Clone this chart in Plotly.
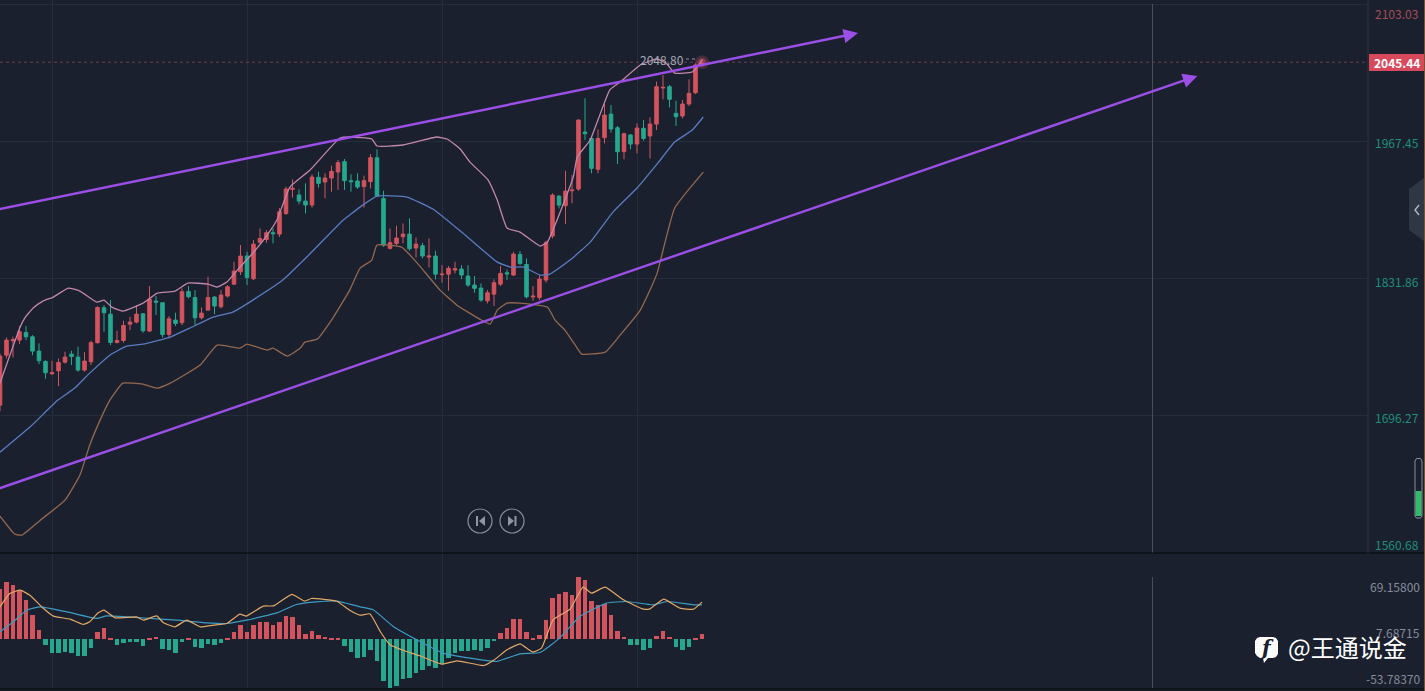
import plotly.graph_objects as go

W, H = 1425, 691

# ---------- data ----------
candle_index = list(range(-1, 108))
open_ = [1706,1755.5,1769.7,1770.4,1778,1773.7,1759.5,1749.3,1737.1,1740,1748.6,1756.5,1753.6,1740.7,1749,1767.8,1802.4,1796.1,1768.1,1770,1786.2,1788.2,1796.5,1779.3,1809,1807.4,1776,1790.2,1787.6,1818.6,1812.6,1792.5,1800.1,1813,1803.4,1814,1825.8,1838,1853.6,1831.1,1867.1,1870,1876.7,1875.3,1895.8,1919.6,1914,1908,1904.1,1931.5,1926.9,1930.8,1936.8,1947,1928.2,1927.9,1922.3,1927.2,1950.9,1910.6,1861.2,1866.1,1872.7,1875.3,1861.5,1863.8,1852.6,1853.6,1835.1,1835.7,1839.7,1840.7,1833.8,1824.9,1821.9,1809.3,1815.9,1825.8,1837,1834.8,1855.2,1845.3,1813,1812.6,1829.8,1873.4,1912.9,1903.4,1918.2,1919.9,1976.3,1970,1939.4,1970.7,1994.1,1980.6,1956.9,1973.4,1964.4,1980,1972.4,1984.2,2019.9,2021.2,1994.8,1992.2,2004,2015.3,2043.6]
high = [1757,1773,1773.7,1784.3,1784.3,1775.3,1767.1,1750.6,1749.9,1752.2,1758.9,1759.8,1763.8,1758.5,1769.7,1804,1805,1810,1779.6,1789.5,1793.5,1805,1796.8,1823.9,1814,1807.4,1794.2,1797.5,1821.5,1823.9,1819.9,1802.7,1833.1,1814,1819.9,1824.9,1848,1864.5,1857.9,1869.4,1881,1879.3,1881,1901,1922.3,1929.5,1919.6,1925.5,1934.5,1937.1,1935.4,1943,1948.7,1949.6,1934.5,1935.4,1933.1,1954.5,1959.2,1918.2,1880.9,1883.6,1885.9,1890.9,1872,1866.8,1871,1858.8,1844.6,1843.7,1848,1844.6,1844.6,1833.8,1826.5,1819.9,1830.5,1843.7,1840.4,1857.8,1858.5,1851.3,1823.9,1834.8,1868.7,1915.6,1913.9,1938,1933.8,1988.9,2009.7,1971.7,1979,2004,2003,1982.3,1975.7,1974.3,1984.9,1988.2,1990.8,2026.2,2032.7,2022.9,2007.3,2008,2028.5,2044.3,2048.8]
low = [1700,1752.2,1753.2,1766.4,1770.4,1755.5,1746.6,1732.1,1735.8,1724.9,1747.3,1745.7,1739.1,1739.1,1745.7,1767.1,1778.7,1765.5,1767.1,1767.8,1780.3,1786.9,1777.7,1778.7,1795.2,1773,1772,1784.3,1785.3,1811.7,1785.3,1790.9,1799.4,1796.1,1801.8,1812.6,1824.9,1834.8,1824.9,1829.8,1866.1,1866.8,1866.1,1872.5,1894.2,1911.4,1904.8,1895.8,1901.5,1921.3,1910.7,1917.3,1919,1919,1917.3,1920,1901.5,1920.5,1912.3,1862.8,1860.2,1864.4,1866.1,1858.8,1852.2,1851.3,1842.3,1830.5,1827.2,1819.2,1836.4,1830.8,1823.2,1817.3,1808.4,1806.7,1804.1,1823.9,1829.8,1833.8,1844.6,1811.7,1809.3,1810,1827.2,1871.1,1900.7,1885.2,1905.7,1918.2,1968.4,1935.4,1935.4,1965.1,1975.7,1944.6,1949.3,1959.2,1955.2,1967.7,1950.2,1978.3,2008.7,2000.7,1982.3,1989.9,2002.1,2013.9,2041]
close = [1754.6,1770.4,1771,1778.7,1773.7,1759.5,1750,1738.1,1738.1,1748.3,1753.6,1754.2,1740.7,1749.6,1767.8,1802.7,1797.5,1768.1,1770,1784.9,1788.2,1796.1,1779.6,1811,1808,1776,1791.5,1786.9,1818.3,1813.3,1792.5,1797.1,1812.6,1804.1,1815,1823.2,1838.7,1853.6,1832.4,1865.4,1871,1876.7,1875.7,1897.4,1919.9,1920.6,1908,1904.1,1931.8,1925.5,1930.8,1937.4,1946,1928.2,1927.2,1921.9,1928.2,1950.9,1913.3,1864.4,1866.8,1871.4,1875.3,1860.8,1865.4,1853.6,1853.6,1835.7,1835.7,1841.4,1841,1834.8,1824.9,1821.6,1810,1817.3,1827.2,1836.4,1836,1855.5,1846.3,1813.3,1813.9,1830.8,1867.1,1913.9,1904,1917.9,1918.9,1988.2,1974.7,1940.4,1970,1993.1,1979.3,1956.9,1974.7,1964.4,1980.3,1970,1984.2,2021.2,2020.5,2008.7,1991.5,2004,2014.6,2042.7,2045.44]

upper_x = [-1,2.1,2.8,4.1,5.6,7.2,9.5,11.3,13.9,15,16.2,17.9,21,23.2,25.9,27.9,31,32.4,33.9,35.5,37.9,40.1,41.6,43.6,46.7,51.3,52.8,56.2,57,61,66.2,67.8,69.8,71.3,74.1,75.5,77,79,82.1,83.2,87.2,87.8,89.8,92.8,94.4,97.5,100.1,101.6,102.8,105.5,107]
upper_v = [1727.8,1783.3,1792.2,1802.1,1809,1813,1821.9,1818.9,1808,1810,1803.1,1799.1,1807,1816.9,1818.9,1826.8,1825.8,1822.9,1827.8,1839.7,1856.5,1874.4,1889.2,1921.9,1938.7,1970.4,1971.4,1969.4,1962.5,1963.5,1971.4,1969.4,1959.5,1946.6,1928.8,1909,1881.3,1877.3,1863.5,1867.4,1931.8,1951.6,1968.4,2017.9,2025.8,2042.7,2048.6,2043.6,2034.7,2035.7,2047.6]

middle_x = [-1,3.6,7.9,10.5,12.8,15.9,18.5,21,25.2,28.2,31.8,34.8,37.9,42.5,46.2,51.8,52.8,54.8,57,61.6,65.6,70.2,75.5,77.5,79.5,82.1,83.6,86.7,89.8,93.3,97,100.2,102.8,105.5,107.2]
middle_v = [1659.5,1684.3,1711,1722.9,1737.7,1755.5,1764.5,1766.4,1773.4,1782.3,1793.2,1798.1,1810,1829.8,1852.6,1889.2,1894.2,1904,1913,1912,1900.1,1876.3,1847.6,1842.7,1842.7,1834.8,1835.7,1849.6,1867.4,1897.1,1920.9,1945.6,1966.4,1978.3,1991.2]

lower_x = [-1,1.3,2.4,5.2,9,11.3,12.8,14.4,15.9,17.9,21,23.2,25.2,29.8,32.4,35.9,37,40.1,41,43.2,45.2,45.9,47.8,50.2,52.8,54.4,56.2,57,60.8,63.2,66.7,69.3,72.8,74.4,75.5,77,79,83.2,84.4,85.9,87.5,88.5,92.1,94.4,97.5,99,100.1,102.8,107.2]
lower_v = [1596.2,1578.3,1577.4,1592.2,1612,1636.8,1666.4,1691.2,1711,1727.8,1726.8,1722.9,1727.8,1745.7,1765.5,1762.5,1766.4,1760.5,1762.5,1754.6,1762.5,1768.4,1771.4,1792.2,1819.9,1841.7,1849.6,1864.5,1862.5,1846.6,1819.9,1805,1791.2,1786.2,1800.1,1807,1807,1803.1,1790.2,1780.3,1765.5,1756.5,1758.5,1775.3,1800.1,1819.9,1836.7,1901.1,1936.7]

hist = [68,77,73.5,66,52.6,32.5,12.5,-7.6,-17.8,-18.7,-16.9,-17.4,-22.7,-21.8,-12,9.4,14.7,1.8,-8,-5.3,-3.6,-3.1,-8.5,1.3,3.1,-12.9,-14.3,-17.4,-2.7,1,-9.8,-12,-6.2,-8,-4.5,1,9.4,19.2,9.8,19.2,23.2,23.6,19.2,23.6,31.6,30.3,19.2,7.1,11.1,6.2,3.1,1.8,2.2,-8.9,-16.5,-24.1,-23.6,-13.8,-28.5,-56.1,-64.2,-61.9,-53,-51.7,-45,-41.4,-36.1,-38.3,-33,-25,-18.3,-15.2,-16,-13.8,-15.2,-11.1,-0.9,8.9,14.7,27.2,27.2,10.2,0.9,6.2,26.3,56.1,61,63.7,59.7,83.8,79.8,52.1,46.3,47.2,33,10.7,4,-7.1,-7.1,-14.7,-11.6,5.3,10.7,4,-10.7,-13.8,-10.7,0.9,7.6]

dif_x = [-1,0.5,2.1,3.6,5.7,7.2,9.8,11.8,12.8,14.1,15,16.7,20,21.1,23.1,24.1,25.9,27.7,29.8,31.8,33.9,35.9,36.9,39.5,41.1,43.9,45.9,46.9,50.8,52.8,54.4,55.9,57.5,59,61.1,63.6,67,69.3,73.4,74.9,77,79,81,82.3,84.1,86.7,88.7,90,92.1,94.9,98,99,101.1,103.6,105.7,107]
dif_v = [43.7,61.5,65.9,59.3,41.4,31.2,27.2,20.1,23.6,35.6,39.2,29,30.3,25.8,31.6,22.7,16.9,25.8,16.9,19.2,21.4,33.9,31.2,44.6,45,60.2,51.2,54.8,51.2,39.2,32.5,34.3,10.7,-7.1,-14.7,-21.8,-33,-28.5,-34.8,-28.1,-13.8,-5.8,-16.9,-11.6,26.3,40.5,70,61.9,70,53,40.5,41,53.9,41.9,40.5,49.9]

dea_x = [-1,1.05,3.1,5.2,9.3,13.9,15.4,20,26.2,30.8,33.9,36.9,41.6,44.6,47.7,50.8,54.4,56.4,59.5,63.1,67.2,71.3,75.4,79,82.1,85.1,88.2,92.3,95.4,99.5,101.6,105.7,107]
dea_v = [10.2,23.6,39.2,43.7,37,28.1,31.6,29.4,25.8,22.3,21.4,25.8,35.6,46.8,50.4,51.2,43.7,39.7,17.4,-0.4,-18.3,-25,-29.4,-19.2,-17.4,1.8,30.7,48.6,50.8,46.3,50.8,46.3,46.3]

price_ticks = [2103.03, 1967.45, 1831.86, 1696.27, 1560.68]
price_tick_labels = ["2103.03", "1967.45", "1831.86", "1696.27", "1560.68"]
macd_ticks = [69.158, 7.68715, -53.7837]
macd_tick_labels = ["69.15800", "7.68715", "-53.78370"]
last_price = 2045.44
high_mark = 2048.80
grid_candles = [7, 37, 67, 97]

trend_upper = [(-2, 1898.8), (131, 2074.3)]
trend_lower = [(-2, 1621.7), (183.2, 2031.8)]
cursor_candle = 176.3

# ---------- style ----------
BG = "#1a202e"
GRID = "#252c3a"
RED = "#d4545e"
GREEN = "#26a88f"
PURPLE = "#9b4fe6"
FONT = "Noto Sans CJK SC"
PLOT_R = 1368


def fx(px):
    return px / W


def fy(px):
    return 1 - px / H


fig = go.Figure()

fig.add_trace(go.Candlestick(
    x=candle_index, open=open_, high=high, low=low, close=close,
    increasing=dict(line=dict(color=RED, width=1), fillcolor=RED),
    decreasing=dict(line=dict(color=GREEN, width=1), fillcolor=GREEN),
    whiskerwidth=0, xaxis="x", yaxis="y", showlegend=False, hoverinfo="skip"))

for xs, ys, col in [(upper_x, upper_v, "#c286ad"),
                    (middle_x, middle_v, "#5a7cc0"),
                    (lower_x, lower_v, "#94694f")]:
    fig.add_trace(go.Scatter(x=xs, y=ys, mode="lines", xaxis="x", yaxis="y",
                             line=dict(color=col, width=1.3, shape="spline", smoothing=0.4),
                             showlegend=False, hoverinfo="skip"))

fig.add_trace(go.Scatter(x=[candle_index[-1]] * 2, y=[last_price] * 2, mode="markers", xaxis="x", yaxis="y",
                         marker=dict(size=[14, 8], color=["rgba(230,90,120,0.30)", "rgba(235,95,125,0.55)"],
                                     line=dict(width=0)),
                         showlegend=False, hoverinfo="skip"))

fig.add_trace(go.Bar(x=candle_index, y=hist, xaxis="x2", yaxis="y2", width=0.72,
                     marker=dict(color=[RED if v >= 0 else GREEN for v in hist], line=dict(width=0)),
                     showlegend=False, hoverinfo="skip"))
for xs, ys, col in [(dea_x, dea_v, "#3e9cc4"), (dif_x, dif_v, "#e2a866")]:
    fig.add_trace(go.Scatter(x=xs, y=ys, mode="lines", xaxis="x2", yaxis="y2",
                             line=dict(color=col, width=1.2, shape="spline", smoothing=0.4),
                             showlegend=False, hoverinfo="skip"))

shapes = []
# price line, cursor, separators
shapes.append(dict(type="line", xref="x", yref="y", x0=-1, x1=209.46, y0=last_price, y1=last_price,
                   line=dict(color="#6a404c", width=1, dash="3px,3px")))
shapes.append(dict(type="line", xref="x", yref="paper", x0=cursor_candle, x1=cursor_candle,
                   y0=fy(553), y1=fy(4), line=dict(color="#4a505c", width=1)))
shapes.append(dict(type="line", xref="x", yref="paper", x0=cursor_candle, x1=cursor_candle,
                   y0=fy(688), y1=fy(577), line=dict(color="#4a505c", width=1)))
for py, col in [(553, "#05070b"), (689, "#05070b")]:
    shapes.append(dict(type="line", xref="paper", yref="paper", x0=0, x1=1, y0=fy(py), y1=fy(py),
                       line=dict(color=col, width=1.2)))
shapes.append(dict(type="line", xref="paper", yref="paper", x0=fx(PLOT_R), x1=fx(PLOT_R), y0=fy(553), y1=1,
                   line=dict(color="#2a3240", width=1)))
shapes.append(dict(type="line", xref="paper", yref="paper", x0=fx(1424.5), x1=fx(1424.5), y0=0, y1=1,
                   line=dict(color="#7a5230", width=1)))
# dotted lead from the high marker
shapes.append(dict(type="line", xref="paper", yref="paper", x0=fx(686), x1=fx(698), y0=fy(59), y1=fy(59),
                   line=dict(color="#8f96a3", width=1, dash="dot")))
# last-price box
shapes.append(dict(type="rect", xref="paper", yref="paper", x0=fx(1369), x1=fx(1424), y0=fy(71), y1=fy(54),
                   fillcolor="#d8495c", line=dict(width=0)))
# playback buttons
for cx in (480, 512):
    shapes.append(dict(type="circle", xref="paper", yref="paper", x0=fx(cx - 12), x1=fx(cx + 12),
                       y0=fy(533), y1=fy(509), line=dict(color="#878d99", width=1.2)))


def path(points):
    return "M " + " L ".join(f"{fx(a):.5f},{fy(b):.5f}" for a, b in points) + " Z"


for pts in ([(476, 516), (478, 516), (478, 526), (476, 526)], [(479, 521), (485, 516), (485, 526)],
            [(508, 516), (514, 521), (508, 526)], [(514.5, 516), (516.5, 516), (516.5, 526), (514.5, 526)]):
    shapes.append(dict(type="path", xref="paper", yref="paper", path=path(pts),
                       fillcolor="#8f95a1", line=dict(width=0)))
# side handle
shapes.append(dict(type="path", xref="paper", yref="paper",
                   path=path([(1424, 178), (1409, 189), (1409, 230), (1424, 241)]),
                   fillcolor="#2f3745", line=dict(width=0)))
shapes.append(dict(type="path", xref="paper", yref="paper",
                   path=f"M {fx(1419):.5f},{fy(205):.5f} L {fx(1415):.5f},{fy(210):.5f} L {fx(1419):.5f},{fy(215):.5f}",
                   line=dict(color="#aeb4bf", width=1.5)))
# slider
shapes.append(dict(type="rect", xref="paper", yref="paper", x0=fx(1415.5), x1=fx(1421.5), y0=fy(516), y1=fy(491),
                   fillcolor="#2fbb68", line=dict(width=0)))
shapes.append(dict(type="path", xref="paper", yref="paper",
                   path=path([(1415, 461), (1416.5, 458.5), (1420.5, 458.5), (1422, 461),
                              (1422, 516), (1420.5, 518), (1416.5, 518), (1415, 516)]),
                   line=dict(color="#8b929e", width=1)))
# watermark badge
shapes.append(dict(type="path", xref="paper", yref="paper",
                   path=path([(1260, 637), (1273, 637), (1276, 638), (1278, 641), (1278, 654), (1276, 657),
                              (1273, 658), (1268, 658), (1264, 663), (1263, 658), (1260, 658), (1257, 656),
                              (1255, 653), (1255, 641), (1257, 638)]),
                   fillcolor="#ffffff", line=dict(width=0)))

ann = []
for (x0, y0), (x1, y1) in [(trend_upper[0], trend_upper[1]), (trend_lower[0], trend_lower[1])]:
    ann.append(dict(x=x1, y=y1, ax=x0, ay=y0, xref="x", yref="y", axref="x", ayref="y", text="",
                    showarrow=True, arrowhead=2, arrowsize=1.2, arrowwidth=2.4, arrowcolor=PURPLE))

shifts = [-9, -1, -3, -2, 8]
cols = ["#a84c58", "#1f8f7c", "#1f8f7c", "#1f8f7c", "#1f8f7c"]
for v, lab, s, c in zip(price_ticks, price_tick_labels, shifts, cols):
    ann.append(dict(x=fx(1373), y=v, xref="paper", yref="y", yshift=s, text=lab, showarrow=False,
                    xanchor="left", yanchor="middle", font=dict(family=FONT, size=12, color=c)))
ann.append(dict(x=fx(1396.5), y=last_price, xref="paper", yref="y", text=f"<b>{last_price:.2f}</b>", showarrow=False,
                xanchor="center", yanchor="middle", font=dict(family=FONT, size=12, color="#ffffff")))
for v, lab in zip(macd_ticks, macd_tick_labels):
    ann.append(dict(x=fx(1421.5), y=v, xref="paper", yref="y2", yshift=1, text=lab, showarrow=False,
                    xanchor="right", yanchor="middle", font=dict(family=FONT, size=12, color="#858c99")))
ann.append(dict(x=fx(638), y=high_mark - 1, xref="paper", yref="y", text=f"{high_mark:.2f}", showarrow=False,
                xanchor="left", yanchor="middle", font=dict(family=FONT, size=12, color="#a4a9b3")))
ann.append(dict(x=fx(1286), y=fy(646), xref="paper", yref="paper", text="@王通说金", showarrow=False,
                xanchor="left", yanchor="middle", font=dict(family=FONT, size=24, color="#ffffff")))
ann.append(dict(x=fx(1267), y=fy(648), xref="paper", yref="paper", text="<b><i>f</i></b>", showarrow=False,
                xanchor="center", yanchor="middle", font=dict(family="DejaVu Serif", size=20, color="#1a202e")))

fig.update_layout(
    width=W, height=H, margin=dict(l=0, r=0, t=0, b=0), autosize=False,
    paper_bgcolor=BG, plot_bgcolor=BG, showlegend=False, bargap=0, boxgap=0.22, dragmode=False,
    shapes=shapes, annotations=ann,
    xaxis=dict(domain=[0, fx(PLOT_R)], range=[-1, 209.46], anchor="y", tickvals=grid_candles, showticklabels=False,
               showgrid=True, gridcolor=GRID, gridwidth=1, zeroline=False, showline=False, rangeslider=dict(visible=False),
               ticks=""),
    yaxis=dict(domain=[fy(553), 1], range=[1559.7, 2107.0], anchor="x", tickvals=price_ticks, showticklabels=False,
               showgrid=True, gridcolor=GRID, gridwidth=1, zeroline=False, showline=False, ticks=""),
    xaxis2=dict(domain=[0, fx(PLOT_R)], range=[-1, 209.46], anchor="y2", tickvals=grid_candles, showticklabels=False,
                showgrid=True, gridcolor=GRID, gridwidth=1, zeroline=False, showline=False, ticks=""),
    yaxis2=dict(domain=[fy(689), fy(554)], range=[-66.2, 114.3], anchor="x2", showticklabels=False,
                showgrid=False, zeroline=False, showline=False, ticks=""),
)

fig.write_html("out.html", config=dict(displayModeBar=False),
               post_script="document.body.style.margin='0';document.body.style.background='#1a202e';")
